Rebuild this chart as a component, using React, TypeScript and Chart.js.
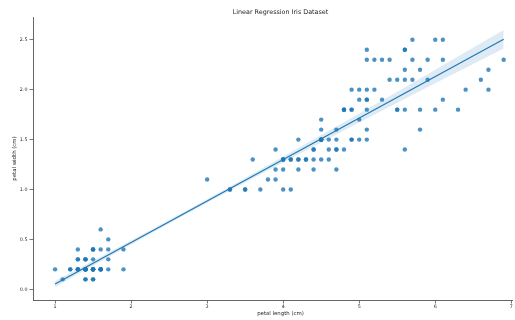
import React, { useEffect, useRef } from "react";
import { Chart, registerables } from "chart.js";

Chart.register(...registerables);

// Iris petal measurements (setosa, versicolor, virginica)
const petalLength = [
  1.4, 1.4, 1.3, 1.5, 1.4, 1.7, 1.4, 1.5, 1.4, 1.5, 1.5, 1.6, 1.4, 1.1, 1.2, 1.5, 1.3, 1.4, 1.7, 1.5,
  1.7, 1.5, 1.0, 1.7, 1.9, 1.6, 1.6, 1.5, 1.4, 1.6, 1.6, 1.5, 1.5, 1.4, 1.5, 1.2, 1.3, 1.4, 1.3, 1.5,
  1.3, 1.3, 1.3, 1.6, 1.9, 1.4, 1.6, 1.4, 1.5, 1.4,
  4.7, 4.5, 4.9, 4.0, 4.6, 4.5, 4.7, 3.3, 4.6, 3.9, 3.5, 4.2, 4.0, 4.7, 3.6, 4.4, 4.5, 4.1, 4.5, 3.9,
  4.8, 4.0, 4.9, 4.7, 4.3, 4.4, 4.8, 5.0, 4.5, 3.5, 3.8, 3.7, 3.9, 5.1, 4.5, 4.5, 4.7, 4.4, 4.1, 4.0,
  4.4, 4.6, 4.0, 3.3, 4.2, 4.2, 4.2, 4.3, 3.0, 4.1,
  6.0, 5.1, 5.9, 5.6, 5.8, 6.6, 4.5, 6.3, 5.8, 6.1, 5.1, 5.3, 5.5, 5.0, 5.1, 5.3, 5.5, 6.7, 6.9, 5.0,
  5.7, 4.9, 6.7, 4.9, 5.7, 6.0, 4.8, 4.9, 5.6, 5.8, 6.1, 6.4, 5.6, 5.1, 5.6, 6.1, 5.6, 5.5, 4.8, 5.4,
  5.6, 5.1, 5.1, 5.9, 5.7, 5.2, 5.0, 5.2, 5.4, 5.1,
];

const petalWidth = [
  0.2, 0.2, 0.2, 0.2, 0.2, 0.4, 0.3, 0.2, 0.2, 0.1, 0.2, 0.2, 0.1, 0.1, 0.2, 0.4, 0.4, 0.3, 0.3, 0.3,
  0.2, 0.4, 0.2, 0.5, 0.2, 0.2, 0.4, 0.2, 0.2, 0.2, 0.2, 0.4, 0.1, 0.2, 0.2, 0.2, 0.2, 0.1, 0.2, 0.2,
  0.3, 0.3, 0.2, 0.6, 0.4, 0.3, 0.2, 0.2, 0.2, 0.2,
  1.4, 1.5, 1.5, 1.3, 1.5, 1.3, 1.6, 1.0, 1.3, 1.4, 1.0, 1.5, 1.0, 1.4, 1.3, 1.4, 1.5, 1.0, 1.5, 1.1,
  1.8, 1.3, 1.5, 1.2, 1.3, 1.4, 1.4, 1.7, 1.5, 1.0, 1.1, 1.0, 1.2, 1.6, 1.5, 1.6, 1.5, 1.3, 1.3, 1.3,
  1.2, 1.4, 1.2, 1.0, 1.3, 1.2, 1.3, 1.3, 1.1, 1.3,
  2.5, 1.9, 2.1, 1.8, 2.2, 2.1, 1.7, 1.8, 1.8, 2.5, 2.0, 1.9, 2.1, 2.0, 2.4, 2.3, 1.8, 2.2, 2.3, 1.5,
  2.3, 2.0, 2.0, 1.8, 2.1, 1.8, 1.8, 1.8, 2.1, 1.6, 1.9, 2.0, 2.2, 1.5, 1.4, 2.3, 2.4, 1.8, 1.8, 2.1,
  2.4, 2.3, 1.9, 2.3, 2.5, 2.3, 1.9, 2.0, 2.3, 1.8,
];

// 95% confidence band half-widths around the fitted line
const bandX = [1.0, 1.5, 2.0, 2.5, 3.0, 3.5, 4.0, 4.5, 5.0, 5.5, 6.0, 6.5, 6.9];
const bandHalf = [0.03, 0.025, 0.02, 0.018, 0.018, 0.022, 0.03, 0.038, 0.045, 0.055, 0.068, 0.082, 0.093];

const xTicks = [1, 2, 3, 4, 5, 6, 7];
const yTicks = [0, 0.5, 1.0, 1.5, 2.0, 2.5];

const titleText = "Linear Regression Iris Dataset";
const xLabel = "petal length (cm)";
const yLabel = "petal width (cm)";

const BLUE = "#1f77b4";
const INK = "#262626";
const AXIS = "#555555";
const FONT = "'DejaVu Sans', sans-serif";

function fitLine(xs: number[], ys: number[]) {
  const n = xs.length;
  const mx = xs.reduce((a, b) => a + b, 0) / n;
  const my = ys.reduce((a, b) => a + b, 0) / n;
  let sxy = 0;
  let sxx = 0;
  for (let i = 0; i < n; i++) {
    sxy += (xs[i] - mx) * (ys[i] - my);
    sxx += (xs[i] - mx) * (xs[i] - mx);
  }
  const slope = sxy / sxx;
  return { slope, intercept: my - slope * mx };
}

const textPlugin = {
  id: "figureText",
  afterDraw(chart: any) {
    const { ctx, chartArea } = chart;
    ctx.save();
    ctx.fillStyle = INK;
    ctx.textAlign = "center";
    ctx.textBaseline = "middle";
    const cx = (chartArea.left + 528) / 2;
    ctx.font = `6.4px ${FONT}`;
    ctx.fillText(titleText, cx, 12);
    ctx.font = `5.4px ${FONT}`;
    ctx.fillText(xLabel, cx, 314);
    ctx.translate(15, (chartArea.top + chartArea.bottom) / 2);
    ctx.rotate(-Math.PI / 2);
    ctx.fillText(yLabel, 0, 0);
    ctx.restore();
  },
};

export default function App() {
  const ref = useRef<HTMLCanvasElement | null>(null);

  useEffect(() => {
    if (!ref.current) return;
    const { slope, intercept } = fitLine(petalLength, petalWidth);
    const xMin = Math.min(...petalLength);
    const xMax = Math.max(...petalLength);
    const lineData = [
      { x: xMin, y: intercept + slope * xMin },
      { x: xMax, y: intercept + slope * xMax },
    ];
    const upper = bandX.map((x, i) => ({ x, y: intercept + slope * x + bandHalf[i] }));
    const lower = bandX.map((x, i) => ({ x, y: intercept + slope * x - bandHalf[i] }));
    const points = petalLength.map((x, i) => ({ x, y: petalWidth[i] }));

    const chart = new Chart(ref.current, {
      type: "scatter",
      data: {
        datasets: [
          {
            data: lineData,
            showLine: true,
            borderColor: BLUE,
            borderWidth: 1.2,
            pointRadius: 0,
            fill: false,
          } as any,
          {
            data: upper,
            showLine: true,
            borderWidth: 0,
            borderColor: "rgba(0,0,0,0)",
            pointRadius: 0,
            fill: false,
          } as any,
          {
            data: lower,
            showLine: true,
            borderWidth: 0,
            borderColor: "rgba(0,0,0,0)",
            backgroundColor: "rgba(31,119,180,0.15)",
            pointRadius: 0,
            fill: "-1",
          } as any,
          {
            data: points,
            pointRadius: 2.2,
            pointBorderWidth: 0,
            pointBackgroundColor: "rgba(31,119,180,0.8)",
            pointHoverRadius: 2.2,
          } as any,
        ],
      },
      options: {
        animation: false,
        responsive: false,
        devicePixelRatio: 1,
        layout: { padding: { top: 17, left: 0, right: 1, bottom: 0 } },
        plugins: {
          legend: { display: false },
          tooltip: { enabled: false },
          title: { display: false },
        },
        scales: {
          x: {
            type: "linear",
            min: 0.71,
            max: 7.02,
            afterBuildTicks: (s: any) => {
              s.ticks = xTicks.map((v) => ({ value: v }));
            },
            afterFit: (s: any) => {
              s.height = 20;
            },
            ticks: {
              color: INK,
              font: { family: FONT, size: 4.8 },
              padding: 0.5,
              maxRotation: 0,
              autoSkip: false,
              callback: (v: any) => String(v),
            },
            grid: {
              display: true,
              drawOnChartArea: false,
              drawTicks: true,
              tickLength: 3.5,
              tickColor: AXIS,
              tickWidth: 0.8,
            },
            border: { display: true, color: AXIS, width: 0.9 },
          },
          y: {
            type: "linear",
            min: -0.107,
            max: 2.728,
            afterBuildTicks: (s: any) => {
              s.ticks = yTicks.map((v) => ({ value: v }));
            },
            afterFit: (s: any) => {
              s.width = 33;
            },
            ticks: {
              color: INK,
              font: { family: FONT, size: 4.8 },
              padding: 2,
              autoSkip: false,
              callback: (v: any) => Number(v).toFixed(1),
            },
            grid: {
              display: true,
              drawOnChartArea: false,
              drawTicks: true,
              tickLength: 3.5,
              tickColor: AXIS,
              tickWidth: 0.8,
            },
            border: { display: true, color: AXIS, width: 0.9 },
          },
        },
      },
      plugins: [textPlugin],
    });
    return () => chart.destroy();
  }, []);

  return (
    <div style={{ position: "fixed", left: 0, top: 0, width: 515, height: 320, background: "#fff" }}>
      <canvas ref={ref} width={515} height={320} />
    </div>
  );
}
